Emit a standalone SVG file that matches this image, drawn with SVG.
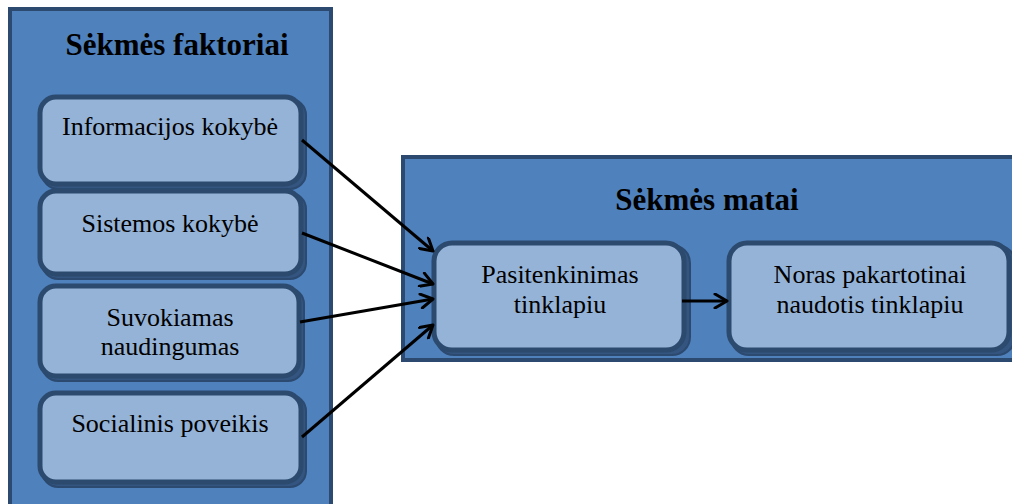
<svg xmlns="http://www.w3.org/2000/svg" width="1012" height="504" viewBox="0 0 1012 504">
  <defs>
    <style>
      .panel { fill: #4f81bd; stroke: #2c4a70; stroke-width: 4; }
      .shadow { fill: #34557f; stroke: #2c4a70; stroke-width: 2; }
      .box { fill: #95b3d7; stroke: #2b4a6e; stroke-width: 5; }
      .title { font-family: "Liberation Serif", "Times New Roman", serif; font-weight: bold; font-size: 31px; fill: #000; text-anchor: middle; }
      .label { font-family: "Liberation Serif", "Times New Roman", serif; font-size: 26px; fill: #000; text-anchor: middle; }
      .conn { stroke: #000; stroke-width: 3; fill: none; marker-end: url(#open); }
    </style>
    <marker id="open" viewBox="0 0 16 16" refX="14" refY="8" markerWidth="16" markerHeight="16" markerUnits="userSpaceOnUse" orient="auto">
      <path d="M2,1 L14,8 L2,15" fill="none" stroke="#000" stroke-width="3" stroke-linecap="round" stroke-linejoin="round"/>
    </marker>
  </defs>

  <!-- left panel: success factors -->
  <g id="factors-panel">
    <rect class="panel" x="10" y="9" width="321" height="510"/>
    <text class="title" x="177" y="55">Sėkmės faktoriai</text>
  </g>

  <g id="node-informacijos">
    <rect class="shadow" x="42" y="99" width="264" height="90" rx="16"/>
    <rect class="box" x="40" y="97" width="261" height="87" rx="16"/>
    <text class="label" x="170" y="135">Informacijos kokybė</text>
  </g>
  <g id="node-sistemos">
    <rect class="shadow" x="42" y="193" width="264" height="86" rx="16"/>
    <rect class="box" x="40" y="191" width="261" height="83" rx="16"/>
    <text class="label" x="170" y="232">Sistemos kokybė</text>
  </g>
  <g id="node-suvokiamas">
    <rect class="shadow" x="42" y="288" width="262" height="93" rx="16"/>
    <rect class="box" x="40" y="286" width="259" height="90" rx="16"/>
    <text class="label" x="170" y="326">Suvokiamas</text>
    <text class="label" x="170" y="355">naudingumas</text>
  </g>
  <g id="node-socialinis">
    <rect class="shadow" x="42" y="395" width="264" height="92" rx="16"/>
    <rect class="box" x="40" y="393" width="261" height="89" rx="16"/>
    <text class="label" x="170" y="432">Socialinis poveikis</text>
  </g>

  <!-- right panel: success measures -->
  <g id="measures-panel">
    <rect class="panel" x="403" y="157" width="620" height="203"/>
    <text class="title" x="707" y="210">Sėkmės matai</text>
  </g>

  <g id="node-pasitenkinimas">
    <rect class="shadow" x="436" y="245" width="254" height="110" rx="18"/>
    <rect class="box" x="434" y="243" width="250" height="107" rx="18"/>
    <text class="label" x="560" y="283">Pasitenkinimas</text>
    <text class="label" x="560" y="313">tinklapiu</text>
  </g>
  <g id="node-noras">
    <rect class="shadow" x="731" y="245" width="284" height="110" rx="18"/>
    <rect class="box" x="729" y="243" width="280" height="107" rx="18"/>
    <text class="label" x="870" y="283">Noras pakartotinai</text>
    <text class="label" x="870" y="313">naudotis tinklapiu</text>
  </g>

  <g id="connectors">
    <line class="conn" x1="302" y1="140" x2="433" y2="251"/>
    <line class="conn" x1="302" y1="233" x2="433" y2="284"/>
    <line class="conn" x1="300" y1="322" x2="433" y2="299"/>
    <line class="conn" x1="302" y1="437" x2="433" y2="325"/>
    <line class="conn" x1="682" y1="301" x2="727" y2="301"/>
  </g>
</svg>
